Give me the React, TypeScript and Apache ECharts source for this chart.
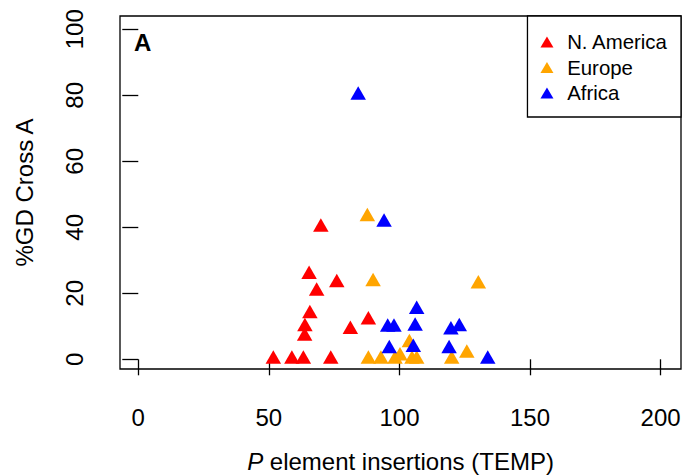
import React, { useEffect, useRef } from "react";
import * as echarts from "echarts";

const seriesNames = ["N. America", "Europe", "Africa"];
const seriesColors = ["#FF0000", "#FFA500", "#0000FF"];

// x = P element insertions (TEMP), y = %GD Cross A
const naX = [69.9, 65.4, 76.0, 68.3, 65.7, 63.8, 63.7, 88.1, 81.2, 51.7, 58.8, 63.2, 73.7];
const naY = [40.0, 25.7, 23.2, 20.6, 13.8, 9.9, 7.0, 11.9, 9.0, 0, 0, 0, 0];

const euX = [87.7, 89.9, 130.2, 88.1, 92.9, 98.3, 100.2, 103.8, 104.8, 106.6, 120.0, 125.8];
const euY = [43.2, 23.5, 22.8, 0, 0, 0, 1.0, 5.0, 0, 0, 0, 1.8];

const afX = [84.2, 94.1, 106.6, 95.5, 97.9, 106.0, 119.7, 122.9, 96.1, 105.3, 119.0, 133.8];
const afY = [80.0, 41.5, 15.1, 9.7, 9.7, 10.0, 8.9, 9.9, 3.2, 3.6, 3.2, 0];

const xTicks = [0, 50, 100, 150, 200];
const yTicks = [0, 20, 40, 60, 80, 100];

const FONT = "'Liberation Sans', Arial, Helvetica, sans-serif";

function pairs(xs: number[], ys: number[]) {
  return xs.map((x, i) => [x, ys[i]]);
}

export default function App() {
  const ref = useRef<HTMLDivElement>(null);
  useEffect(() => {
    if (!ref.current) return;
    const chart = echarts.init(ref.current, null, { renderer: "svg" });
    const data = [pairs(naX, naY), pairs(euX, euY), pairs(afX, afY)];
    chart.setOption({
      animation: false,
      backgroundColor: "#ffffff",
      textStyle: { fontFamily: FONT },
      title: {
        text: "A",
        left: 134,
        top: 30,
        padding: 0,
        textStyle: { fontFamily: FONT, fontWeight: "bold", fontSize: 24, color: "#000" },
      },
      grid: {
        left: 120,
        right: 4,
        top: 16,
        bottom: 106,
        show: true,
        borderColor: "#000",
        borderWidth: 1.3,
        backgroundColor: "transparent",
        outerBoundsMode: "none",
        containLabel: false,
      },
      legend: {
        orient: "vertical",
        right: 4,
        top: 16,
        padding: [16, 13, 14, 13],
        itemGap: 5.5,
        itemWidth: 13,
        itemHeight: 11,
        borderColor: "#000",
        borderWidth: 1.3,
        backgroundColor: "#fff",
        icon: "triangle",
        data: seriesNames,
        textStyle: {
          fontFamily: FONT,
          fontSize: 20.4,
          color: "#000",
          lineHeight: 20,
          padding: [0, 0, 0, 8.7],
        },
      },
      xAxis: {
        type: "value",
        min: -7.0,
        max: 207.8,
        axisLine: { show: false },
        splitLine: { show: false },
        axisTick: {
          show: true,
          length: 16,
          customValues: xTicks,
          lineStyle: { color: "#000", width: 1.3 },
        },
        axisLabel: {
          customValues: xTicks,
          fontFamily: FONT,
          fontSize: 24,
          color: "#000",
          margin: 36,
        },
        name: "{i|P} element insertions (TEMP)",
        nameLocation: "middle",
        nameGap: 80,
        nameTextStyle: {
          fontFamily: FONT,
          fontSize: 24,
          color: "#000",
          rich: { i: { fontStyle: "italic", fontFamily: FONT, fontSize: 24, color: "#000" } },
        },
      },
      yAxis: {
        type: "value",
        min: -2.94,
        max: 104.03,
        axisLine: { show: false },
        splitLine: { show: false },
        axisTick: {
          show: true,
          length: 16,
          customValues: yTicks,
          lineStyle: { color: "#000", width: 1.3 },
        },
        axisLabel: {
          customValues: yTicks,
          rotate: 90,
          fontFamily: FONT,
          fontSize: 24,
          color: "#000",
          margin: 34,
        },
        name: "%GD Cross A",
        nameLocation: "middle",
        nameGap: 84,
        nameTextStyle: { fontFamily: FONT, fontSize: 24, color: "#000" },
      },
      series: seriesNames.map((name, i) => ({
        name,
        type: "scatter",
        data: data[i],
        symbol: "triangle",
        symbolSize: [15.5, 13.5],
        symbolOffset: [0, -2.25],
        itemStyle: { color: seriesColors[i], opacity: 1 },
        emphasis: { disabled: true },
      })),
    });
    return () => chart.dispose();
  }, []);
  return <div ref={ref} style={{ width: 685, height: 475, position: "absolute", left: 0, top: 0 }} />;
}
